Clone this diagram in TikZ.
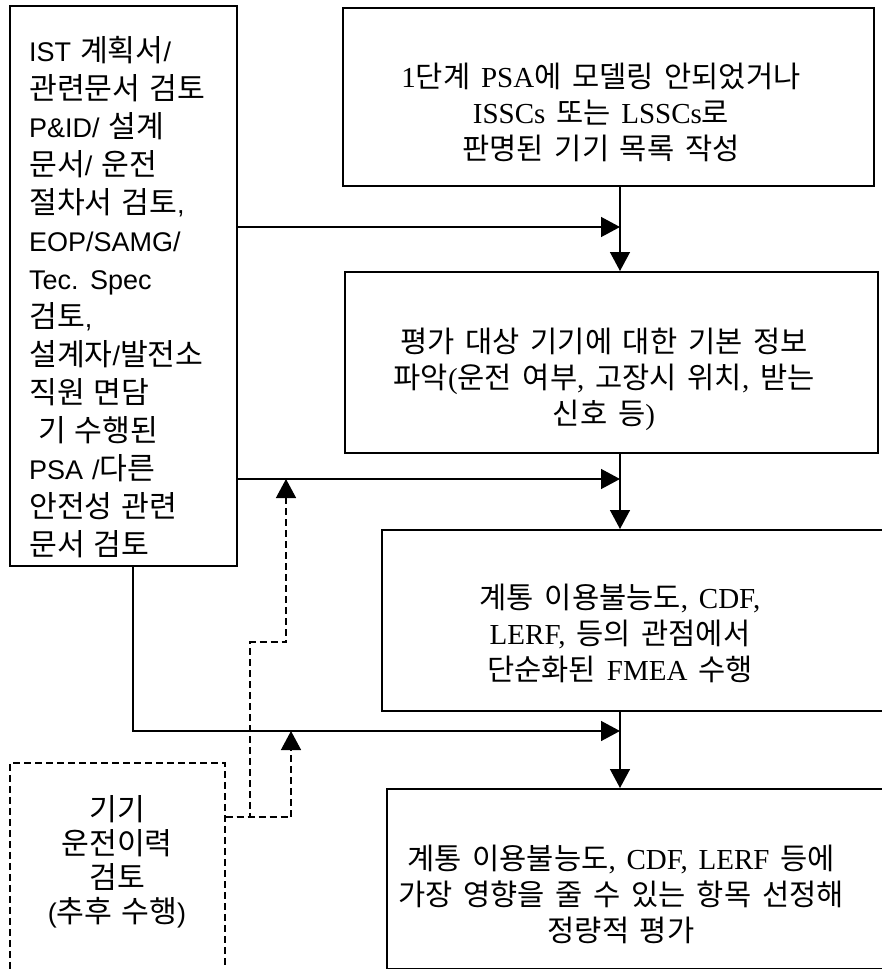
\documentclass[tikz,border=0pt]{standalone}
\usepackage{fontspec}
\setmainfont{Liberation Serif}
\newfontfamily\arialfont{Liberation Sans}
\newfontfamily\hanfont[Scale=1.12]{Noto Sans CJK KR}
\newfontfamily\hanstagefont[Scale=1.02]{Noto Sans CJK KR}
\usetikzlibrary{arrows.meta}

% Hangul syllables are set in the Korean face, the rest in the Latin one
\XeTeXinterchartokenstate=1
\newXeTeXintercharclass\hanclass
\count255="AC00
\loop
  \XeTeXcharclass\count255=\hanclass
  \ifnum\count255<"D7A3 \advance\count255 by 1
\repeat
\newcommand\latinfont{\rmfamily}
\newcommand\koreanfont{\hanfont}
\XeTeXinterchartoks 0 \hanclass = {\koreanfont}
\XeTeXinterchartoks 4095 \hanclass = {\koreanfont}
\XeTeXinterchartoks \hanclass 0 = {\latinfont}
\XeTeXinterchartoks \hanclass 4095 = {\latinfont}

\newcommand\stagefont{\let\latinfont\rmfamily\let\koreanfont\hanstagefont\rmfamily\fontsize{29pt}{36pt}\selectfont\spaceskip=0.37em\relax}
\newcommand\sourcefont{\let\latinfont\arialfont\let\koreanfont\hanfont\arialfont\fontsize{27pt}{38pt}\selectfont\spaceskip=0.33em\relax}
\newcommand\laterfont{\let\latinfont\arialfont\let\koreanfont\hanfont\arialfont\fontsize{27pt}{34pt}\selectfont\spaceskip=0.33em\relax}

\begin{document}
\begin{tikzpicture}[x=1pt, y=-1pt,
    stagebox/.style={draw, line width=1.6pt, inner sep=0pt},
    laterbox/.style={draw, dash pattern=on 7pt off 4pt, line width=1.5pt, inner sep=0pt},
    stagetext/.style={align=center, inner sep=0pt, font=\stagefont},
    sourcetext/.style={align=left, inner sep=0pt, font=\sourcefont},
    flow/.style={line width=1.4pt, -{Triangle[length=19pt, width=20pt]}},
    hint/.style={flow, dash pattern=on 7pt off 4pt}]
    \useasboundingbox (0,0) rectangle (881,969);

    % Documents to review (left)
    \node[stagebox, minimum width=227pt, minimum height=560pt, anchor=north west] (review) at (9,5) {};
    \node[sourcetext, anchor=west] (reviewtext) at (29,297) {IST 계획서/\\관련문서 검토\\P\&ID/ 설계\\문서/ 운전\\절차서 검토,\\EOP/SAMG/\\Tec. Spec\\검토,\\설계자/발전소\\직원 면담\\\hspace{9pt}기 수행된\\PSA /다른\\안전성 관련\\문서 검토};

    % Later step, runs off the page
    \node[laterbox, minimum width=215pt, minimum height=240pt, anchor=north west] (history) at (9,762) {};
    \node[align=center, inner sep=0pt, font=\laterfont] (historytext) at (117,862) {기기\\운전이력\\검토\\(추후 수행)};

    % Evaluation steps (right)
    \node[stagebox, minimum width=531pt, minimum height=178pt, anchor=north west] (unmodeled) at (342,7) {};
    \node[stagetext] (unmodeledtext) at (601,112) {1단계 PSA에 모델링 안되었거나\\ISSCs 또는 LSSCs로\\판명된 기기 목록 작성};
    \node[stagebox, minimum width=533pt, minimum height=181pt, anchor=north west] (info) at (344,271) {};
    \node[stagetext] (infotext) at (604,379) {평가 대상 기기에 대한 기본 정보\\파악(운전 여부, 고장시 위치, 받는\\신호 등)};
    \node[stagebox, minimum width=540pt, minimum height=181pt, anchor=north west] (fmea) at (381,529) {};
    \node[stagetext] (fmeatext) at (620,633) {계통 이용불능도, CDF,\\LERF, 등의 관점에서\\단순화된 FMEA 수행};
    \node[stagebox, minimum width=540pt, minimum height=180pt, anchor=north west] (quant) at (386,788) {};
    \node[stagetext] (quanttext) at (621,894) {계통 이용불능도, CDF, LERF 등에\\가장 영향을 줄 수 있는 항목 선정해\\정량적 평가};

    % Junction points
    \coordinate (spine) at (620,0);
    \coordinate (feedA) at (620,227);
    \coordinate (feedB) at (620,479);
    \coordinate (feedC) at (620,731);
    \coordinate (drop) at (133,0);
    \coordinate (tap) at ([yshift=-55pt]history.north east);
    \coordinate (hintA) at (286,479);
    \coordinate (hintB) at (291,731);

    % Main flow
    \draw[flow] (unmodeled.south -| spine) -- (info.north -| spine);
    \draw[flow] (info.south -| spine) -- (fmea.north -| spine);
    \draw[flow] (fmea.south -| spine) -- (quant.north -| spine);

    % Inputs from the review
    \draw[flow] (review.east |- feedA) -- (feedA);
    \draw[flow] (review.east |- feedB) -- (feedB);
    \draw[flow] (review.south -| drop) |- (feedC);

    % Operating history (dashed)
    \draw[hint] (tap) -| (250,642) -| (hintA);
    \draw[hint] (tap) -| (hintB);
\end{tikzpicture}
\end{document}
